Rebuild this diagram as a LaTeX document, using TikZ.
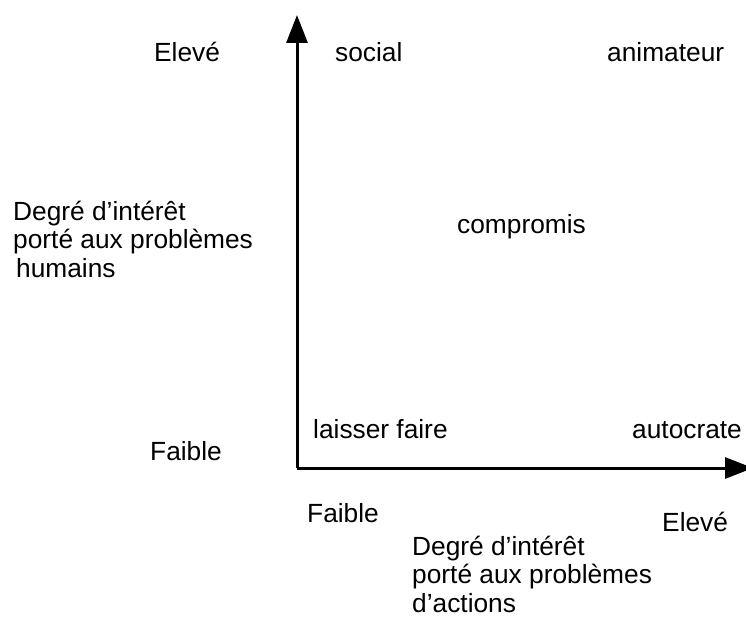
\documentclass[tikz,border=0pt]{standalone}
\usepackage{fontspec}
\setmainfont{Liberation Sans}
\usetikzlibrary{arrows.meta}

\tikzset{
  lbl/.style={anchor=base west, inner sep=0pt, align=left,
    font=\fontsize{26.3}{28.5}\selectfont},
  axis/.style={line width=3pt, -{Triangle[width=21pt,length=28pt]}}
}

\begin{document}
\begin{tikzpicture}[x=1pt, y=-1pt]
    \useasboundingbox (0,0) rectangle (746,618);

    % axes
    \coordinate (origin) at (297,468);
    \coordinate (ytip) at (297,15);
    \coordinate (xtip) at (753,468);
    \draw[axis] (origin) -- (ytip);
    \draw[axis] (origin) -- (xtip);

    % vertical axis labels (base = last line)
    \node[lbl] (yhigh) at (154,62) {Elevé};
    \node[lbl] (ylow) at (150,460) {Faible};
    \node[lbl] (ytitle) at (13,277) {Degré d’intérêt\\porté aux problèmes\\\hspace*{3pt}humains};

    % horizontal axis labels
    \node[lbl] (xlow) at (307,522) {Faible};
    \node[lbl] (xhigh) at (662,531) {Elevé};
    \node[lbl] (xtitle) at (412,612) {Degré d’intérêt\\porté aux problèmes\\d’actions};

    % styles
    \node[lbl] (social) at (335,62) {social};
    \node[lbl] (animateur) at (607,62) {animateur};
    \node[lbl] (compromis) at (457,233) {compromis};
    \node[lbl] (laisser) at (313,438) {laisser faire};
    \node[lbl] (autocrate) at (632,438) {autocrate};
\end{tikzpicture}
\end{document}
